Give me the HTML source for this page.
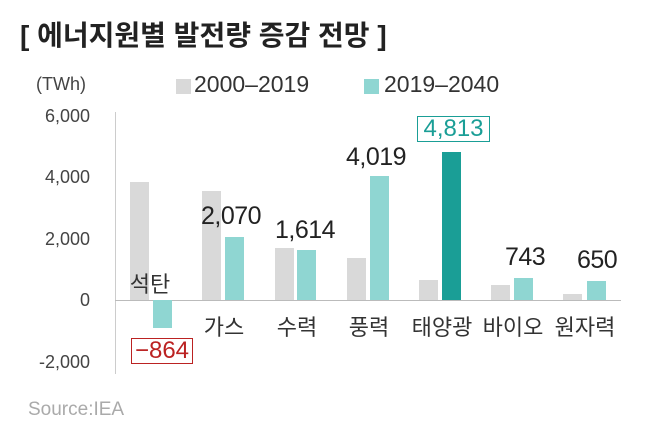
<!DOCTYPE html><html><head><meta charset="utf-8"><style>
body{margin:0;width:647px;height:441px;background:#fff;position:relative;overflow:hidden;font-family:"Liberation Sans","Noto Sans CJK KR",sans-serif;color:#222}
div{position:absolute}
.g{background:#d9d9d9;width:19px}.t{background:#8fd6d2;width:19px}
.lab{font-size:25px;color:#222;white-space:nowrap;letter-spacing:-0.5px}
.ax{font-size:18px;color:#444;text-align:right;width:70px;left:20px}
.cat{font-size:22px;color:#333;white-space:nowrap;transform:translateX(-50%)}
</style></head><body>
<div style="left:20px;top:14px;font-size:28px;font-weight:bold;color:#222">[ 에너지원별 발전량 증감 전망 ]</div>
<div style="left:36px;top:74px;font-size:18px;color:#444">(TWh)</div>
<div style="left:176px;top:79px;width:15px;height:15px;background:#d9d9d9"></div>
<div style="left:194px;top:71px;font-size:23px;color:#333">2000–2019</div>
<div style="left:364px;top:79px;width:15px;height:15px;background:#8fd6d2"></div>
<div style="left:384px;top:71px;font-size:23px;color:#333">2019–2040</div>
<div class="ax" style="top:106px">6,000</div>
<div class="ax" style="top:167px">4,000</div>
<div class="ax" style="top:229px">2,000</div>
<div class="ax" style="top:290px">0</div>
<div class="ax" style="top:352px">-2,000</div>
<div style="left:115px;top:112px;width:1px;height:262px;background:#ccc"></div>
<div style="left:115px;top:300px;width:506px;height:1px;background:#bbb"></div>
<div class="g" style="left:130px;top:182px;height:118px"></div>
<div class="t" style="left:153px;top:300px;height:28px"></div>
<div class="g" style="left:202px;top:191px;height:109px"></div>
<div class="t" style="left:225px;top:237px;height:63px"></div>
<div class="g" style="left:275px;top:248px;height:52px"></div>
<div class="t" style="left:297px;top:250px;height:50px"></div>
<div class="g" style="left:347px;top:258px;height:42px"></div>
<div class="t" style="left:370px;top:176px;height:124px"></div>
<div class="g" style="left:419px;top:280px;height:20px"></div>
<div class="t" style="left:442px;top:152px;height:148px;background:#1a9e96"></div>
<div class="g" style="left:491px;top:285px;height:15px"></div>
<div class="t" style="left:514px;top:278px;height:22px"></div>
<div class="g" style="left:563px;top:294px;height:6px"></div>
<div class="t" style="left:587px;top:281px;height:19px"></div>
<div class="lab" style="left:201px;top:202px">2,070</div>
<div class="lab" style="left:275px;top:216px">1,614</div>
<div class="lab" style="left:346px;top:143px">4,019</div>
<div style="left:417px;top:116px;width:71px;height:24px;border:1px solid #1a9e96;color:#1a9e96;font-size:24px;text-align:center;line-height:24px">4,813</div>
<div class="lab" style="left:505px;top:243px">743</div>
<div class="lab" style="left:577px;top:246px">650</div>
<div style="left:131px;top:338px;width:60px;height:24px;border:1px solid #b22;color:#b22;font-size:24px;text-align:center;line-height:24px">−864</div>
<div class="cat" style="left:150px;top:267px">석탄</div>
<div class="cat" style="left:224px;top:310px">가스</div>
<div class="cat" style="left:297px;top:310px">수력</div>
<div class="cat" style="left:369px;top:310px">풍력</div>
<div class="cat" style="left:442px;top:310px">태양광</div>
<div class="cat" style="left:513px;top:310px">바이오</div>
<div class="cat" style="left:585px;top:310px">원자력</div>
<div style="left:28px;top:399px;font-size:19px;color:#aaa">Source:IEA</div>
</body></html>
